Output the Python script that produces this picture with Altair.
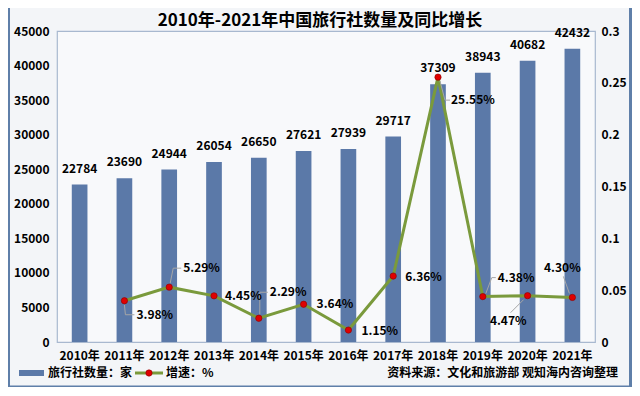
import altair as alt
import pandas as pd

years = ["2010年", "2011年", "2012年", "2013年", "2014年", "2015年",
         "2016年", "2017年", "2018年", "2019年", "2020年", "2021年"]
agencies = [22784, 23690, 24944, 26054, 26650, 27621, 27939, 29717,
            37309, 38943, 40682, 42432]
growth = [None, 0.0398, 0.0529, 0.0445, 0.0229, 0.0364, 0.0115, 0.0636,
          0.2555, 0.0438, 0.0447, 0.0430]
growth_labels = ["", "3.98%", "5.29%", "4.45%", "2.29%", "3.64%", "1.15%",
                 "6.36%", "25.55%", "4.38%", "4.47%", "4.30%"]

left_ticks = [0, 5000, 10000, 15000, 20000, 25000, 30000, 35000, 40000, 45000]
right_ticks = [0, 0.05, 0.1, 0.15, 0.2, 0.25, 0.3]

title_text = "2010年-2021年中国旅行社数量及同比增长"
legend_bar = "旅行社数量：家"
legend_line = "增速：%"
source_text = "资料来源：文化和旅游部 观知海内咨询整理"

# label placement style (dx, dy, align) for growth labels
label_style = {
    "2011年": (12, 14, "left"),
    "2012年": (14, -19, "left"),
    "2013年": (11, 0, "left"),
    "2014年": (11, -26, "left"),
    "2015年": (13, 0, "left"),
    "2016年": (13, 1, "left"),
    "2017年": (12, 1, "left"),
    "2018年": (13, 23, "left"),
    "2019年": (15, -19, "left"),
    "2020年": (-1, 25, "right"),
    "2021年": (-10, -29, "center"),
}
# leader line segments (pixel offsets from the point) for some labels
leader_style = {
    "2011年": [(0, 4, 1, 14), (1, 14, 10, 14)],
    "2012年": [(1, -4, 4, -19), (4, -19, 12, -19)],
    "2014年": [(1, -4, 1, -26), (1, -26, 9, -26)],
    "2018年": [(2, 4, 7, 23), (7, 23, 12, 23)],
    "2019年": [(3, -3, 9, -19), (9, -19, 13, -19)],
    "2020年": [(-4, 4, -17, 17)],
    "2021年": [(-3, -4, -9, -21)],
}

FONT = "Noto Sans CJK SC"
BAR = "#5b79a8"
LINE = "#7a9a3c"
DOT = "#e00000"
FRAME = "#5f7fa9"

df = pd.DataFrame({"year": years, "count": agencies,
                   "growth": growth, "glabel": growth_labels})

W, H = 538, 311

x_axis = alt.Axis(labelAngle=0, ticks=False, domain=False,
                  labelPadding=8, labelFontSize=12,
                  labelFontWeight="bold", labelFont=FONT,
                  labelColor="#000")
x = alt.X("year:N", sort=years, title=None,
          scale=alt.Scale(paddingInner=0.65, paddingOuter=0.33),
          axis=x_axis)

left_axis = alt.Axis(values=left_ticks, format="d", grid=False,
                     ticks=False, domain=False, labelPadding=8,
                     labelFontSize=12, labelFontWeight="bold",
                     labelFont=FONT, labelColor="#000")
y_left = alt.Y("count:Q", title=None,
               scale=alt.Scale(domain=[0, 45000], nice=False),
               axis=left_axis)

base = alt.Chart(df)

bars = base.mark_bar(color=BAR).encode(x=x, y=y_left)
bar_labels = base.mark_text(baseline="bottom", dy=-9, fontSize=12,
                            fontWeight="bold", font=FONT,
                            color="#000").encode(
    x=x, y=y_left, text=alt.Text("count:Q", format="d"))

left = alt.layer(bars, bar_labels)

right_axis = alt.Axis(orient="right", values=right_ticks,
                      format="~g", grid=False, ticks=False,
                      domain=False, labelPadding=6,
                      labelFontSize=12, labelFontWeight="bold",
                      labelFont=FONT, labelColor="#000")
y_right = alt.Y("growth:Q", title=None,
                scale=alt.Scale(domain=[0, 0.3], nice=False),
                axis=right_axis)

gbase = base.transform_filter("datum.growth != null")

leader_layers = []
for yr, segs in leader_style.items():
    for (x1, y1, x2, y2) in segs:
        leader_layers.append(
            gbase.transform_filter(alt.datum.year == yr).mark_rule(
                color="#a6a6a6", strokeWidth=1,
                xOffset=x1, yOffset=y1, x2Offset=x2, y2Offset=y2).encode(
                x=x, y=y_right,
                x2=alt.X2("year:N"), y2=alt.Y2("growth:Q")))

line = gbase.mark_line(color=LINE, strokeWidth=3).encode(x=x, y=y_right)
dots = gbase.mark_point(filled=True, fill=DOT, stroke="#8a0000",
                        strokeWidth=0.6, size=40, opacity=1).encode(
    x=x, y=y_right)

pct_layers = []
for yr, (dx, dy, al) in label_style.items():
    pct_layers.append(
        gbase.transform_filter(alt.datum.year == yr).mark_text(
            align=al, baseline="middle", dx=dx, dy=dy, fontSize=12,
            fontWeight="bold", font=FONT, color="#000").encode(
            x=x, y=y_right, text="glabel:N"))

right = alt.layer(line, *leader_layers, dots, *pct_layers)

# title / legend / annotation elements (pixel placement within the chart)
one = alt.Chart(pd.DataFrame({"k": [0]}))
title_mark = one.mark_text(align="center", baseline="middle", fontSize=17,
                           fontWeight="bold", font=FONT, color="#000").encode(
    x=alt.value(263), y=alt.value(-10), text=alt.value(title_text))
leg_rect = one.mark_rect(color=BAR).encode(
    x=alt.value(-38), x2=alt.value(-13), y=alt.value(339), y2=alt.value(345))
leg_text1 = one.mark_text(align="left", baseline="middle", fontSize=12,
                          fontWeight="bold", font=FONT, color="#000").encode(
    x=alt.value(-9), y=alt.value(342), text=alt.value(legend_bar))
leg_line = one.mark_rule(color=LINE, strokeWidth=3).encode(
    x=alt.value(78), x2=alt.value(106), y=alt.value(342))
leg_dot = one.mark_point(filled=True, fill=DOT, stroke="#8a0000",
                         strokeWidth=0.6, size=40, opacity=1).encode(
    x=alt.value(92), y=alt.value(342))
leg_text2 = one.mark_text(align="left", baseline="middle", fontSize=12,
                          fontWeight="bold", font=FONT, color="#000").encode(
    x=alt.value(109), y=alt.value(342), text=alt.value(legend_line))
src_text = one.mark_text(align="right", baseline="middle", fontSize=12,
                         fontWeight="bold", font=FONT, color="#000").encode(
    x=alt.value(561), y=alt.value(342), text=alt.value(source_text))
frame_r = one.mark_rule(color=FRAME, strokeWidth=3).encode(
    x=alt.value(573.5), y=alt.value(-23), y2=alt.value(357.5))
frame_b = one.mark_rule(color=FRAME, strokeWidth=3).encode(
    x=alt.value(-49), x2=alt.value(575), y=alt.value(356))
frame_l = one.mark_rule(color=FRAME, strokeWidth=2).encode(
    x=alt.value(-48), y=alt.value(-23), y2=alt.value(357))

extras = alt.layer(title_mark, leg_rect, leg_text1, leg_line, leg_dot,
                   leg_text2, src_text, frame_r, frame_b, frame_l)

chart = alt.layer(left, right, extras).resolve_scale(
    y="independent"
).properties(
    width=W, height=H,
    autosize=alt.AutoSizeParams(type="none"),
    padding={"left": 49, "top": 23, "right": 37, "bottom": 45},
    background="#f3f5f8",
).configure_view(
    stroke="#a8b8cf", strokeWidth=1.2, fill="#f8f9fb"
)

chart.save("out.html", embed_options={"renderer": "svg", "actions": False})
